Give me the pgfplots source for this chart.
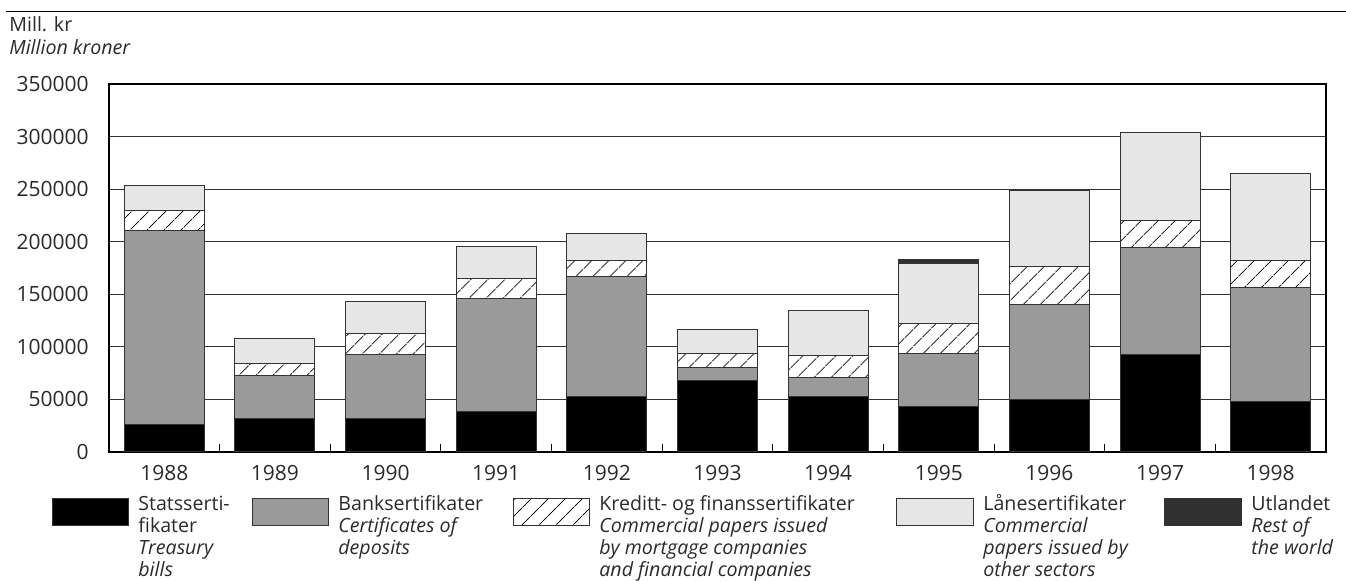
\documentclass[border=0pt]{standalone}
\usepackage{fontspec}
\setmainfont{Open Sans}
\usepackage{pgfplots}
\pgfplotsset{compat=1.18}
\usepackage{pgfplotstable}
\usetikzlibrary{patterns.meta}

\definecolor{bankgray}{HTML}{9A9A9A}
\definecolor{lanegray}{HTML}{E6E6E6}
\definecolor{utlgray}{HTML}{303030}
\definecolor{edge}{HTML}{333333}
\definecolor{txt}{HTML}{2A2A2A}

% Mill. kr, 1988-1998 (x = 0..10)
\pgfplotstableread{
x  stat   bank    kred   lane   utl
0  25900  184700  18700  23700  0
1  31400  41500   11400  23700  0
2  31700  61400   19700  30400  0
3  38700  107300  19000  30000  0
4  53200  113300  15600  25900  0
5  68100  12000   13300  22800  0
6  52500  18700   20600  43100  0
7  43700  50100   28400  56700  4100
8  50000  90600   35400  72900  1000
9  92400  102000  25300  84000  0
10 48200  108300  25600  82300  500
}\certs

\tikzset{hatch/.style={pattern={Lines[angle=45,distance=6.5pt,line width=0.45pt]},pattern color=black}}

\begin{document}
\fontsize{9.8}{10.85}\selectfont
\begin{tikzpicture}[every node/.append style={text=txt}]
\path[use as bounding box] (0,0) rectangle (673pt,-290.5pt);
\draw[line width=0.6pt] (3pt,-5.6pt) -- (673pt,-5.6pt);
\node[anchor=base west, inner sep=0] at (4.5pt,-16pt) {Mill. kr};
\node[anchor=base west, inner sep=0] at (4.5pt,-27.5pt) {\itshape Million kroner};

\begin{axis}[
  at={(54.5pt,-226pt)}, anchor=south west,
  scale only axis, width=608.5pt, height=184pt,
  ybar stacked, bar width=0.723,
  xmin=-0.5, xmax=10.5, ymin=0, ymax=350000,
  xtick={0,...,10},
  xticklabels={1988,1989,1990,1991,1992,1993,1994,1995,1996,1997,1998},
  minor xtick={-0.5,0.5,...,10.5},
  xtick pos=bottom, ytick pos=left,
  major tick length=0pt, minor tick length=4.2pt,
  tick align=inside,
  ytick={0,50000,...,350000},
  scaled y ticks=false,
  /pgf/number format/fixed,
  /pgf/number format/precision=0,
  /pgf/number format/1000 sep={},
  /pgf/number format/assume math mode=true,
  tick label style={font=\fontsize{10.5}{12}\selectfont},
  yticklabel style={inner sep=0pt, xshift=-10pt, text=txt},
  xticklabel style={inner sep=0pt, yshift=-6.5pt, text=txt},
  ymajorgrids, major grid style={black!80, line width=0.5pt},
  axis line style={black, line width=0.6pt},
  every tick/.style={black, line width=0.5pt},
]
\addplot[fill=black, draw=edge, line width=0.5pt] table[x=x, y=stat]{\certs};
\addplot[fill=bankgray, draw=edge, line width=0.5pt] table[x=x, y=bank]{\certs};
\addplot[fill=white, draw=edge, line width=0.5pt, postaction={hatch}] table[x=x, y=kred]{\certs};
\addplot[fill=lanegray, draw=edge, line width=0.5pt] table[x=x, y=lane]{\certs};
\addplot[fill=utlgray, draw=edge, line width=0.5pt] table[x=x, y=utl]{\certs};
\end{axis}

% legend, laid out in pixel units of the reference
\begin{scope}[x=0.5pt, y=-0.5pt, every node/.style={anchor=base west, inner sep=0pt, text=txt}]
  \filldraw[fill=black, draw=edge, line width=0.5pt] (52,499) rectangle (128,526);
  \filldraw[fill=bankgray, draw=edge, line width=0.5pt] (252,499) rectangle (328,526);
  \fill[white] (513,499) rectangle (589,526);
  \fill[hatch] (513,499) rectangle (589,526);
  \draw[edge, line width=0.5pt] (513,499) rectangle (589,526);
  \filldraw[fill=lanegray, draw=edge, line width=0.5pt] (896,499) rectangle (973,526);
  \filldraw[fill=utlgray, draw=edge, line width=0.5pt] (1164,499) rectangle (1241,526);

  \node at (138,511) {Statsserti-};
  \node at (138,532.7) {fikater};
  \node at (138,554.4) {\itshape Treasury};
  \node at (138,576.1) {\itshape bills};

  \node at (338,511) {Banksertifikater};
  \node at (338,532.7) {\itshape Certificates of};
  \node at (338,554.4) {\itshape deposits};

  \node at (599,511) {Kreditt- og finanssertifikater};
  \node at (599,532.7) {\itshape Commercial papers issued};
  \node at (599,554.4) {\itshape by mortgage companies};
  \node at (599,576.1) {\itshape and financial companies};

  \node at (983,511) {Lånesertifikater};
  \node at (983,532.7) {\itshape Commercial};
  \node at (983,554.4) {\itshape papers issued by};
  \node at (983,576.1) {\itshape other sectors};

  \node at (1251,511) {Utlandet};
  \node at (1251,532.7) {\itshape Rest of};
  \node at (1251,554.4) {\itshape the world};
\end{scope}
\end{tikzpicture}
\end{document}
